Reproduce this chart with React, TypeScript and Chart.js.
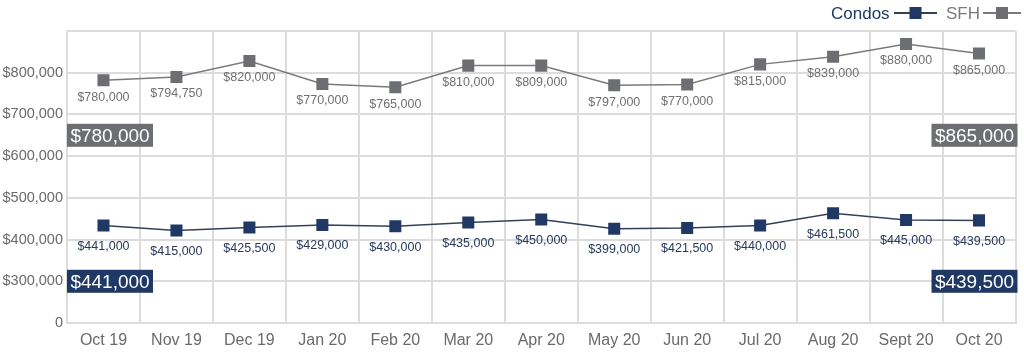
import React, { useEffect, useRef } from "react";
import { Chart, registerables } from "chart.js";

Chart.register(...registerables);

const categories = ["Oct 19", "Nov 19", "Dec 19", "Jan 20", "Feb 20", "Mar 20", "Apr 20", "May 20", "Jun 20", "Jul 20", "Aug 20", "Sept 20", "Oct 20"];
const sfhValues = [782000, 790000, 828000, 773000, 765000, 817000, 817000, 770000, 772000, 820000, 838000, 869000, 846000];
const sfhLabels = ["$780,000", "$794,750", "$820,000", "$770,000", "$765,000", "$810,000", "$809,000", "$797,000", "$770,000", "$815,000", "$839,000", "$880,000", "$865,000"];
const condoValues = [434000, 422000, 429000, 435000, 432000, 441000, 448000, 426000, 428000, 434000, 463000, 447000, 446000];
const condoLabels = ["$441,000", "$415,000", "$425,500", "$429,000", "$430,000", "$435,000", "$450,000", "$399,000", "$421,500", "$440,000", "$461,500", "$445,000", "$439,500"];
const yMin = 200000;
const yMax = 900000;
const yStep = 100000;

const FONT = "'Liberation Sans', Arial, Helvetica, sans-serif";
const NAVY = "#1f3864";
const NAVY_LINE = "#33405a";
const GRAY = "#6d6e71";
const GRAY_LINE = "#7a7a7a";
const GRID = "#dcdcdc";

const labelPlugin = {
  id: "valueLabels",
  afterDatasetsDraw(chart: any) {
    const ctx = chart.ctx;
    const sets = [
      { idx: 0, labels: condoLabels, color: "#26395d", off: 21 },
      { idx: 1, labels: sfhLabels, color: "#707070", off: 17 },
    ];
    ctx.save();
    ctx.font = `12.5px ${FONT}`;
    ctx.textAlign = "center";
    ctx.textBaseline = "middle";
    for (const s of sets) {
      const meta = chart.getDatasetMeta(s.idx);
      ctx.fillStyle = s.color;
      meta.data.forEach((pt: any, i: number) => {
        ctx.fillText(s.labels[i], pt.x, pt.y + s.off);
      });
    }
    ctx.restore();
  },
  afterDraw(chart: any) {
    const ctx = chart.ctx;
    const area = chart.chartArea;
    const y = chart.scales.y;
    const boxW = 86;
    const boxH = 23;
    const boxes = [
      { text: sfhLabels[0], x: area.left, cy: y.getPixelForValue(650000), fill: GRAY },
      { text: sfhLabels[sfhLabels.length - 1], x: area.right + 2 - boxW, cy: y.getPixelForValue(650000), fill: GRAY },
      { text: condoLabels[0], x: area.left, cy: y.getPixelForValue(300000), fill: NAVY },
      { text: condoLabels[condoLabels.length - 1], x: area.right + 2 - boxW, cy: y.getPixelForValue(300000), fill: NAVY },
    ];
    ctx.save();
    ctx.font = `19px ${FONT}`;
    ctx.textAlign = "center";
    ctx.textBaseline = "middle";
    for (const b of boxes) {
      ctx.fillStyle = b.fill;
      ctx.fillRect(b.x, b.cy - boxH / 2, boxW, boxH);
      ctx.fillStyle = "#ffffff";
      ctx.fillText(b.text, b.x + boxW / 2, b.cy + 1);
    }

    // legend (text first, then line with square marker)
    const items = [
      { text: "Condos", color: NAVY, line: NAVY_LINE, tx: 831, l0: 894, l1: 937 },
      { text: "SFH", color: "#7a7a7a", line: GRAY_LINE, tx: 946, l0: 983, l1: 1021 },
    ];
    ctx.font = `17px ${FONT}`;
    ctx.textAlign = "left";
    const ly = 13;
    for (const it of items) {
      ctx.fillStyle = it.color;
      ctx.fillText(it.text, it.tx, ly + 1);
      ctx.strokeStyle = it.line;
      ctx.lineWidth = 2;
      ctx.beginPath();
      ctx.moveTo(it.l0, ly);
      ctx.lineTo(it.l1, ly);
      ctx.stroke();
      const cx = (it.l0 + it.l1) / 2;
      ctx.fillStyle = it.color === NAVY ? NAVY : GRAY;
      ctx.fillRect(cx - 6, ly - 6, 12, 12);
    }
    ctx.restore();
  },
};

export default function App() {
  const ref = useRef<HTMLCanvasElement>(null);
  useEffect(() => {
    document.body.style.margin = "0";
    const canvas = ref.current;
    if (!canvas) return;
    const chart = new Chart(canvas, {
      type: "line",
      data: {
        labels: categories,
        datasets: [
          {
            label: "Condos",
            data: condoValues,
            borderColor: NAVY_LINE,
            backgroundColor: NAVY,
            borderWidth: 1.5,
            pointStyle: "rect",
            pointRadius: 8.5,
            pointBackgroundColor: NAVY,
            pointBorderColor: NAVY,
            pointBorderWidth: 0,
            tension: 0,
          },
          {
            label: "SFH",
            data: sfhValues,
            borderColor: GRAY_LINE,
            backgroundColor: GRAY,
            borderWidth: 1.5,
            pointStyle: "rect",
            pointRadius: 8.5,
            pointBackgroundColor: GRAY,
            pointBorderColor: GRAY,
            pointBorderWidth: 0,
            tension: 0,
          },
        ],
      },
      options: {
        animation: false,
        responsive: false,
        maintainAspectRatio: false,
        layout: { padding: { top: 31, right: 3, left: 0, bottom: 0 } },
        plugins: {
          legend: { display: false },
          tooltip: { enabled: false },
        },
        scales: {
          x: {
            offset: true,
            grid: { offset: true, color: GRID, lineWidth: 2, drawTicks: false },
            border: { color: GRID, width: 2 },
            ticks: {
              color: "#6a6a6a",
              font: { family: FONT, size: 16 },
              padding: 8,
              maxRotation: 0,
              autoSkip: false,
            },
            afterFit(scale: any) {
              scale.height = 29;
            },
          },
          y: {
            min: yMin,
            max: yMax,
            grid: { color: GRID, lineWidth: 2, drawTicks: false },
            border: { color: GRID, width: 2 },
            ticks: {
              stepSize: yStep,
              color: "#6a6a6a",
              font: { family: FONT, size: 14.5 },
              padding: 4,
              callback: (v: any) => {
                if (v === yMin) return "0";
                if (v === yMax) return "";
                return "$" + Number(v).toLocaleString("en-US");
              },
            },
            afterFit(scale: any) {
              scale.width = 67;
            },
          },
        },
      },
      plugins: [labelPlugin],
    });
    return () => chart.destroy();
  }, []);
  return (
    <div style={{ width: 1024, height: 352 }}>
      <canvas ref={ref} width={1024} height={352} style={{ display: "block" }} />
    </div>
  );
}
